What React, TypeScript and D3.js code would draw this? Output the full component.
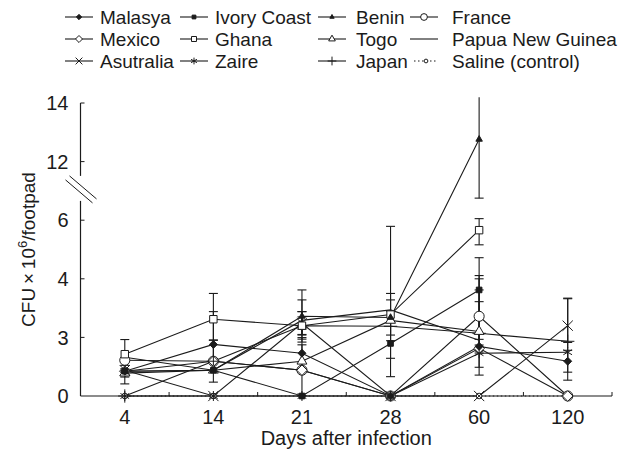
import React, { useEffect, useRef } from 'react';
import * as d3 from 'd3';

// days after infection (categorical x axis)
const days = ['4', '14', '21', '28', '60', '120'];
// the y axis is broken between 6 and 12, labels are evenly spaced
const yTicks = [0, 3, 4, 6, 12, 14];

// CFU x 10^6 / footpad, one value per day (null = not measured)
const malasya = [1.27, 2.64, 2.19, 0, 2.54, 1.78];
const ivoryCoast = [1.27, 1.32, 0, 2.69, 3.81, null];
const benin = [1.27, 1.32, 3.36, 3.34, 12.76, null];
const france = [1.83, 1.78, 1.32, 0, 3.36, 0];
const mexico = [1.27, 1.78, 1.32, 0, 2.44, 0];
const ghana = [2.14, 3.31, 3.2, 3.39, 5.66, null];
const togo = [1.17, 1.32, 1.78, 3.29, 3.1, null];
const papuaNewGuinea = [1.98, 1.32, 3.29, 3.47, 2.85, null];
const asutralia = [1.32, 0, 3.24, 0, 0, 3.2];
const zaire = [0, 0, 0, 0, 2.19, 2.24];
const japan = [0, 1.78, 3.2, 3.19, 3.07, 2.8];
const saline = [0, 0, 0, 0, 0, 0];

// +/- error per day (0 = no bar drawn)
const malasyaErr = [0.3, 0.8, 0.8, 0, 1.07, 0.56];
const ivoryCoastErr = [0, 0, 0, 0.76, 0.91, 0];
const beninErr = [0, 0, 0.45, 0.3, 4.5, 0];
const franceErr = [0, 0, 1.3, 0, 0.75, 0];
const mexicoErr = [0, 0, 0, 0, 1.37, 0];
const ghanaErr = [0.75, 0.44, 0.44, 2.4, 0.5, 0];
const togoErr = [0.55, 0, 0, 0.46, 0.9, 0];
const papuaNewGuineaErr = [0, 0, 0.15, 0, 0, 0];
const asutraliaErr = [0, 0, 0.2, 0, 0, 0.46];
const zaireErr = [0, 0, 0, 0, 0, 1.43];
const japanErr = [0, 1.07, 0.15, 0, 0, 0];
const salineErr = [0, 0, 0, 0, 0, 0];

const series = [
    { name: 'Malasya', values: malasya, err: malasyaErr, mark: 'diamondFilled' },
    { name: 'Ivory Coast', values: ivoryCoast, err: ivoryCoastErr, mark: 'squareFilled' },
    { name: 'Benin', values: benin, err: beninErr, mark: 'triangleFilled' },
    { name: 'France', values: france, err: franceErr, mark: 'circle' },
    { name: 'Mexico', values: mexico, err: mexicoErr, mark: 'diamond' },
    { name: 'Ghana', values: ghana, err: ghanaErr, mark: 'square' },
    { name: 'Togo', values: togo, err: togoErr, mark: 'triangle' },
    { name: 'Papua New Guinea', values: papuaNewGuinea, err: papuaNewGuineaErr, mark: 'none' },
    { name: 'Asutralia', values: asutralia, err: asutraliaErr, mark: 'x' },
    { name: 'Zaire', values: zaire, err: zaireErr, mark: 'asterisk' },
    { name: 'Japan', values: japan, err: japanErr, mark: 'plus' },
    { name: 'Saline (control)', values: saline, err: salineErr, mark: 'smallCircle' },
];

// which series' markers get painted first (bottom) to last (top)
const markerOrder = ['Saline (control)', 'France', 'Mexico', 'Japan', 'Zaire', 'Asutralia',
    'Papua New Guinea', 'Togo', 'Ghana', 'Benin', 'Ivory Coast', 'Malasya'];

const markStyles = {
    diamondFilled: { type: d3.symbolDiamond2, size: 40, fill: true },
    squareFilled: { type: d3.symbolSquare2, size: 40, fill: true },
    triangleFilled: { type: d3.symbolTriangle2, size: 30, fill: true },
    circle: { type: d3.symbolCircle, size: 80, fill: false },
    diamond: { type: d3.symbolDiamond2, size: 70, fill: false },
    square: { type: d3.symbolSquare2, size: 70, fill: false },
    triangle: { type: d3.symbolTriangle2, size: 70, fill: false },
    x: { type: d3.symbolX, size: 70, fill: false },
    asterisk: { type: d3.symbolAsterisk, size: 70, fill: false },
    plus: { type: d3.symbolPlus, size: 60, fill: false },
    smallCircle: { type: d3.symbolCircle, size: 25, fill: false },
};

const FONT = '"Liberation Sans", Arial, Helvetica, sans-serif';
const INK = '#1b1b1b';

const App = () => {
    const svgRef = useRef(null);

    useEffect(() => {
        const width = 622;
        const height = 451;
        const left = 80.5;
        const right = 612;
        const bottom = 396;
        const step = 58.6;

        const svg = d3.select(svgRef.current)
            .attr('width', width)
            .attr('height', height);
        svg.selectAll('*').remove();

        const xScale = d3.scalePoint()
            .domain(days)
            .range([left, right])
            .padding(0.5);

        // piecewise scale: each labelled value gets the same spacing
        const yScale = d3.scaleLinear()
            .domain(yTicks)
            .range(yTicks.map((_, i) => bottom - i * step));

        const g = svg.append('g')
            .attr('font-family', FONT)
            .attr('fill', INK);

        // x axis
        g.append('line')
            .attr('x1', left).attr('x2', right)
            .attr('y1', bottom).attr('y2', bottom)
            .attr('stroke', INK).attr('stroke-width', 1.2);
        const bw = xScale.step();
        days.forEach((d) => {
            const bx = xScale(d) + bw / 2;
            g.append('line')
                .attr('x1', bx).attr('x2', bx)
                .attr('y1', bottom).attr('y2', bottom - 4)
                .attr('stroke', INK).attr('stroke-width', 1);
            g.append('text')
                .attr('x', xScale(d))
                .attr('y', bottom + 28)
                .attr('text-anchor', 'middle')
                .attr('font-size', 20)
                .text(d);
        });
        g.append('text')
            .attr('x', (left + right) / 2)
            .attr('y', 445)
            .attr('text-anchor', 'middle')
            .attr('font-size', 20)
            .text('Days after infection');

        // y axis with a break between 6 and 12
        const breakY = (yScale(6) + yScale(12)) / 2 - 2;
        g.append('line')
            .attr('x1', left).attr('x2', left)
            .attr('y1', bottom).attr('y2', breakY + 12)
            .attr('stroke', INK).attr('stroke-width', 1.2);
        g.append('line')
            .attr('x1', left).attr('x2', left)
            .attr('y1', breakY - 13).attr('y2', yScale(14))
            .attr('stroke', INK).attr('stroke-width', 1.2);
        [-2, 2].forEach((o) => {
            g.append('line')
                .attr('x1', left - 13 + o).attr('y1', breakY - 11 - o)
                .attr('x2', left + 14 + o).attr('y2', breakY + 12 - o)
                .attr('stroke', INK).attr('stroke-width', 1);
        });
        yTicks.forEach((t) => {
            if (t > 0) {
                g.append('line')
                    .attr('x1', left).attr('x2', left + 4)
                    .attr('y1', yScale(t)).attr('y2', yScale(t))
                    .attr('stroke', INK).attr('stroke-width', 1);
            }
            g.append('text')
                .attr('x', left - 12)
                .attr('y', yScale(t))
                .attr('dy', '0.36em')
                .attr('text-anchor', 'end')
                .attr('font-size', 20)
                .text(t);
        });
        const yLabel = g.append('text')
            .attr('transform', `translate(35,${(bottom + yScale(14)) / 2}) rotate(-90)`)
            .attr('text-anchor', 'middle')
            .attr('font-size', 19);
        yLabel.append('tspan').text('CFU\u2009\u00d7\u200910');
        yLabel.append('tspan').attr('dy', -8).attr('font-size', 13).text('6');
        yLabel.append('tspan').attr('dy', 8).text('/footpad');

        const top = yScale(14.2);
        const line = d3.line()
            .defined((d) => d[1] != null)
            .x((d) => xScale(d[0]))
            .y((d) => yScale(d[1]));

        // lines
        series.forEach((s) => {
            g.append('path')
                .datum(days.map((d, i) => [d, s.values[i]]))
                .attr('d', line)
                .attr('fill', 'none')
                .attr('stroke', INK)
                .attr('stroke-width', 1.1)
                .attr('stroke-dasharray', s.mark === 'smallCircle' ? '1.5,2.5' : null);
        });

        // error bars
        series.forEach((s) => {
            days.forEach((d, i) => {
                const v = s.values[i];
                const e = s.err[i];
                if (v == null || !e) return;
                const x = xScale(d);
                const yHi = Math.max(yScale(v + e), top);
                const yLo = yScale(Math.max(v - e, 0));
                g.append('line')
                    .attr('x1', x).attr('x2', x)
                    .attr('y1', yLo).attr('y2', yHi)
                    .attr('stroke', INK).attr('stroke-width', 1.1);
                [yLo, yHi].forEach((yy) => {
                    if (yy <= top || yy >= bottom) return;
                    g.append('line')
                        .attr('x1', x - 4.5).attr('x2', x + 4.5)
                        .attr('y1', yy).attr('y2', yy)
                        .attr('stroke', INK).attr('stroke-width', 1.1);
                });
            });
        });

        const drawMark = (sel, mark, x, y, scale) => {
            const st = markStyles[mark];
            if (!st) return;
            sel.append('path')
                .attr('d', d3.symbol().type(st.type).size(st.size * scale)())
                .attr('transform', `translate(${x},${y})`)
                .attr('fill', st.fill ? INK : 'white')
                .attr('stroke', INK)
                .attr('stroke-width', 1);
        };

        // markers
        markerOrder.forEach((name) => {
            const s = series.find((d) => d.name === name);
            days.forEach((d, i) => {
                const v = s.values[i];
                if (v == null) return;
                drawMark(g, s.mark, xScale(d), yScale(v), 1);
            });
        });

        // legend, 4 columns x 3 rows
        const colSym = [65, 180, 318, 410];
        const colText = [100, 215, 356, 452];
        const rowY = [17, 39, 61];
        series.forEach((s, i) => {
            const c = i % 4;
            const r = Math.floor(i / 4);
            const dotted = s.mark === 'smallCircle';
            const x0 = colSym[c] + (dotted ? 4 : 0);
            const len = dotted ? 24 : 28;
            const y0 = rowY[r];
            g.append('line')
                .attr('x1', x0).attr('x2', x0 + len)
                .attr('y1', y0).attr('y2', y0)
                .attr('stroke', INK).attr('stroke-width', 1.1)
                .attr('stroke-dasharray', dotted ? '1.5,2.5' : null);
            drawMark(g, s.mark, x0 + len / 2, y0, 0.45);
            g.append('text')
                .attr('x', colText[c])
                .attr('y', y0)
                .attr('dy', '0.36em')
                .attr('font-size', 19)
                .text(s.name);
        });
    }, []);

    return (
        <svg ref={svgRef} style={{ position: 'absolute', left: 0, top: 0, background: 'white' }}></svg>
    );
};

export default App;
